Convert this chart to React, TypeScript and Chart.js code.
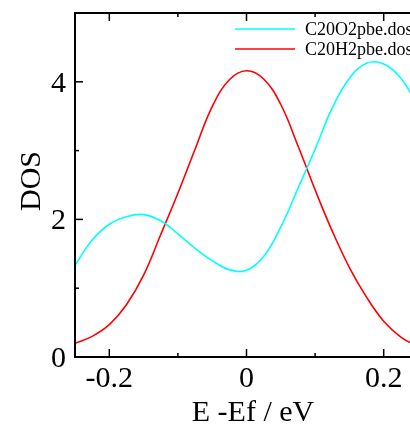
import React, { useEffect, useRef } from "react";
import { Chart, registerables } from "chart.js";

Chart.register(...registerables);

const energies = [
  -0.25, -0.225, -0.2, -0.175, -0.15, -0.125, -0.1, -0.075, -0.05, -0.025, 0,
  0.025, 0.05, 0.075, 0.1, 0.125, 0.15, 0.175, 0.2, 0.225, 0.25,
];
const dosO2 = [
  1.33, 1.7, 1.93, 2.04, 2.07, 1.98, 1.79, 1.58, 1.4, 1.27, 1.26,
  1.46, 1.89, 2.45, 3.02, 3.62, 4.05, 4.27, 4.26, 4.05, 3.65,
];
const dosH2 = [
  0.2, 0.3, 0.47, 0.76, 1.19, 1.78, 2.38, 3.02, 3.64, 4.03, 4.16,
  4.04, 3.67, 3.07, 2.43, 1.83, 1.3, 0.87, 0.52, 0.29, 0.15,
];
const seriesNames = ["C20O2pbe.dos", "C20H2pbe.dos"];
const xMajorTicks = [-0.2, 0, 0.2];
const xMinorTicks = [-0.1, 0.1];
const xTickLabels = ["-0.2", "0", "0.2"];
const yMajorTicks = [0, 2, 4];
const yMinorTicks = [1, 3, 5];
const yTickLabels = ["0", "2", "4"];
const xTitle = "E -Ef / eV";
const yTitle = "DOS";

const FONT = '"Liberation Serif", "Times New Roman", serif';
const colors = ["#00ffff", "#ff0000"];

const axesPlugin = {
  id: "customAxes",
  afterDraw(chart: any) {
    const ctx = chart.ctx;
    const { left, right, top, bottom } = chart.chartArea;
    const xs = chart.scales.x;
    const ys = chart.scales.y;
    ctx.save();
    ctx.strokeStyle = "#000";
    ctx.lineWidth = 2;
    ctx.strokeRect(left, top, right - left, bottom - top);
    ctx.lineWidth = 1.5;
    const tick = (x1: number, y1: number, x2: number, y2: number) => {
      ctx.beginPath();
      ctx.moveTo(x1, y1);
      ctx.lineTo(x2, y2);
      ctx.stroke();
    };
    xMajorTicks.forEach((v) => {
      const p = xs.getPixelForValue(v);
      tick(p, bottom, p, bottom - 8);
      tick(p, top, p, top + 8);
    });
    xMinorTicks.forEach((v) => {
      const p = xs.getPixelForValue(v);
      tick(p, bottom, p, bottom - 4);
      tick(p, top, p, top + 4);
    });
    yMajorTicks.forEach((v) => {
      const p = ys.getPixelForValue(v);
      tick(left, p, left + 8, p);
      tick(right, p, right - 8, p);
    });
    yMinorTicks.forEach((v) => {
      const p = ys.getPixelForValue(v);
      tick(left, p, left + 4, p);
      tick(right, p, right - 4, p);
    });
    ctx.fillStyle = "#000";
    ctx.font = `30px ${FONT}`;
    ctx.textAlign = "center";
    ctx.textBaseline = "alphabetic";
    xMajorTicks.forEach((v, i) => {
      ctx.fillText(xTickLabels[i], xs.getPixelForValue(v), bottom + 30);
    });
    ctx.textAlign = "right";
    yMajorTicks.forEach((v, i) => {
      ctx.fillText(yTickLabels[i], left - 9, ys.getPixelForValue(v) + 10);
    });
    ctx.textAlign = "center";
    ctx.fillText(xTitle, (left + 431) / 2 + 0, 421);
    ctx.save();
    ctx.translate(40, 181);
    ctx.rotate(-Math.PI / 2);
    ctx.fillText(yTitle, 0, 0);
    ctx.restore();
    // legend
    ctx.font = `18px ${FONT}`;
    ctx.textAlign = "left";
    ctx.textBaseline = "middle";
    seriesNames.forEach((name, i) => {
      const y = 29 + i * 20;
      ctx.strokeStyle = colors[i];
      ctx.lineWidth = 1.5;
      tick(235, y, 295, y);
      ctx.fillStyle = "#000";
      ctx.fillText(name, 305, y + 1);
    });
    ctx.restore();
  },
};

export default function App() {
  const ref = useRef<HTMLCanvasElement>(null);
  useEffect(() => {
    if (!ref.current) return;
    const chart = new Chart(ref.current, {
      type: "line",
      data: {
        datasets: [
          {
            label: seriesNames[0],
            data: energies.map((x, i) => ({ x, y: dosO2[i] })),
            borderColor: colors[0],
            borderWidth: 1.6,
            pointRadius: 0,
            tension: 0.4,
            fill: false,
          },
          {
            label: seriesNames[1],
            data: energies.map((x, i) => ({ x, y: dosH2[i] })),
            borderColor: colors[1],
            borderWidth: 1.6,
            pointRadius: 0,
            tension: 0.4,
            fill: false,
          },
        ],
      },
      options: {
        animation: false,
        responsive: false,
        maintainAspectRatio: false,
        layout: { padding: { left: 75, top: 13, right: 22, bottom: 68 } },
        plugins: { legend: { display: false }, tooltip: { enabled: false } },
        scales: {
          x: { type: "linear", min: -0.25, max: 0.25, display: false },
          y: { type: "linear", min: 0, max: 5, display: false },
        },
      },
      plugins: [axesPlugin],
    });
    return () => chart.destroy();
  }, []);
  return (
    <div style={{ position: "fixed", left: 0, top: 0, width: 440, height: 425, background: "#fff" }}>
      <canvas ref={ref} width={440} height={425} style={{ width: 440, height: 425, display: "block" }} />
    </div>
  );
}
